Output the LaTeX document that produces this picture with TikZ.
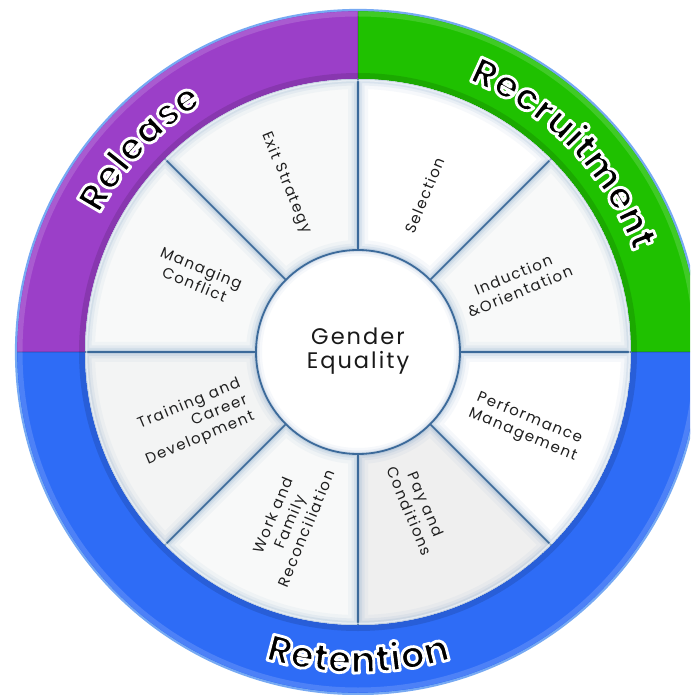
\documentclass[tikz,border=0pt]{standalone}
\usepackage{fontspec}
\setmainfont{Poppins}
\newfontfamily\segfont[LetterSpace=10]{Poppins}
\newfontfamily\hubfont[LetterSpace=9]{Poppins}
\newfontfamily\ringfont[LetterSpace=7]{Poppins}
\usetikzlibrary{decorations.text}

\definecolor{relpurple}{HTML}{9B3FC8}
\definecolor{recgreen}{HTML}{1FC100}
\definecolor{retblue}{HTML}{2E6CF6}
\definecolor{edgeblue}{HTML}{3C6A9A}
\definecolor{glowblue}{HTML}{6F95C0}
\definecolor{haloblue}{HTML}{76A9F3}
\definecolor{segW}{HTML}{FFFFFF}
\definecolor{segA}{HTML}{F8F9F9}
\definecolor{segB}{HTML}{F3F4F4}
\definecolor{segC}{HTML}{EFEFEF}

\tikzset{
  seglabel/.style={font=\fontsize{15}{18}\selectfont\segfont, align=center, text=black!88, inner sep=0pt},
  hublabel/.style={font=\fontsize{22.5}{24}\selectfont\hubfont, align=center, text=black!90, inner sep=0pt},
}
% black glyphs with a white stroked outline (text render mode 2)
\newcommand\ringsize{\fontsize{38}{38}\selectfont\ringfont\bfseries\color{black}\special{pdf:literal direct 0 g 1 1 1 RG 2.8 w 1 j 2 Tr}}

\begin{document}
\begin{tikzpicture}[x=1pt,y=1pt]
\useasboundingbox (-358,-343) rectangle (332,352);
\clip (-358,-343) rectangle (332,352);
\fill[white] (-358,-343) rectangle (332,352);

\def\Ro{342pt}
\def\Ri{273pt}
\def\Rc{102pt}

% coloured ring
\fill[relpurple] (90:\Ri) -- (90:\Ro) arc[start angle=90,end angle=180,radius=\Ro] -- (180:\Ri) arc[start angle=180,end angle=90,radius=\Ri] -- cycle;
\fill[recgreen] (0:\Ri) -- (0:\Ro) arc[start angle=0,end angle=90,radius=\Ro] -- (90:\Ri) arc[start angle=90,end angle=0,radius=\Ri] -- cycle;
\fill[retblue] (180:\Ri) -- (180:\Ro) arc[start angle=180,end angle=360,radius=\Ro] -- (360:\Ri) arc[start angle=360,end angle=180,radius=\Ri] -- cycle;
\draw[black, opacity=.12, line width=6pt] (0,0) circle[radius=276pt];
\draw[white, opacity=.15, line width=5pt] (0,0) circle[radius=338pt];
\draw[black, opacity=.10, line width=1.2pt] (0,\Ri) -- (0,\Ro);
\draw[black, opacity=.10, line width=1.2pt] (-\Ro,0) -- (\Ro,0);
\draw[haloblue, line width=2.2pt] (0,0) circle[radius=\Ro];

% wheel segments
\foreach \a/\f in {0/segA, 45/segW, 90/segA, 135/segA, 180/segB, 225/segA, 270/segC, 315/segW} {
  \begin{scope}
    \clip (\a:\Rc) -- (\a:\Ri) arc[start angle=\a, delta angle=45, radius=\Ri] -- ({\a+45}:\Rc) arc[start angle={\a+45}, delta angle=-45, radius=\Rc] -- cycle;
    \fill[\f] (0,0) circle[radius=\Ri];
    \foreach \w/\o in {20/0.06, 13/0.09, 8/0.13, 4/0.2} {
      \draw[glowblue, opacity=\o, line width=\w pt] (\a:\Rc) -- (\a:\Ri) arc[start angle=\a, delta angle=45, radius=\Ri] -- ({\a+45}:\Rc) arc[start angle={\a+45}, delta angle=-45, radius=\Rc] -- cycle;
    }
  \end{scope}
}
\foreach \a in {0,45,...,315} {
  \draw[edgeblue, line width=1.6pt] (\a:\Rc) -- (\a:\Ri);
}
\draw[white, opacity=.6, line width=1.5pt] (0,0) circle[radius=271.5pt];

% hub
\fill[white] (0,0) circle[radius=\Rc];
\begin{scope}
  \clip (0,0) circle[radius=\Rc];
  \foreach \w/\o in {12/0.06, 7/0.1, 3.5/0.18} {
    \draw[glowblue, opacity=\o, line width=\w pt] (0,0) circle[radius=\Rc];
  }
\end{scope}
\draw[edgeblue, line width=1.8pt] (0,0) circle[radius=\Rc];
\node[hublabel] (hub) at (0,1) {Gender\\Equality};

% segment labels
\node[seglabel, rotate=-67.5] (exit) at (113:184pt) {Exit Strategy};
\node[seglabel, rotate=67.5] (selection) at (67:170pt) {Selection};
\node[seglabel, rotate=22.5] (induction) at (23.5:173pt) {Induction\\\&Orientation};
\node[seglabel, rotate=-22.5] (performance) at (-24:184pt) {Performance\\Management};
\node[seglabel, rotate=-67.5] (pay) at (-69:167pt) {Pay and\\Conditions};
\node[seglabel, rotate=67.5] (work) at (-112:183pt) {Work and\\Family\\Reconciliation};
\node[seglabel, rotate=22.5, align=right] (training) at (203:179pt) {Training and\\Career\\Development};
\node[seglabel, rotate=-22.5] (managing) at (154.6:177pt) {Managing\\Conflict};

% ring labels
\path[decorate, decoration={text along path, text align=center, text={|\ringsize|Release}}] (172:293pt) arc[start angle=172, end angle=102, radius=293pt];
\path[decorate, decoration={text along path, text align=center, text={|\ringsize|Recruitment}}] (82:293pt) arc[start angle=82, end angle=6, radius=293pt];
\path[decorate, decoration={text along path, text align=center, text={|\ringsize|Retention}}] (225:321pt) arc[start angle=225, end angle=315, radius=321pt];
\end{tikzpicture}
\end{document}
